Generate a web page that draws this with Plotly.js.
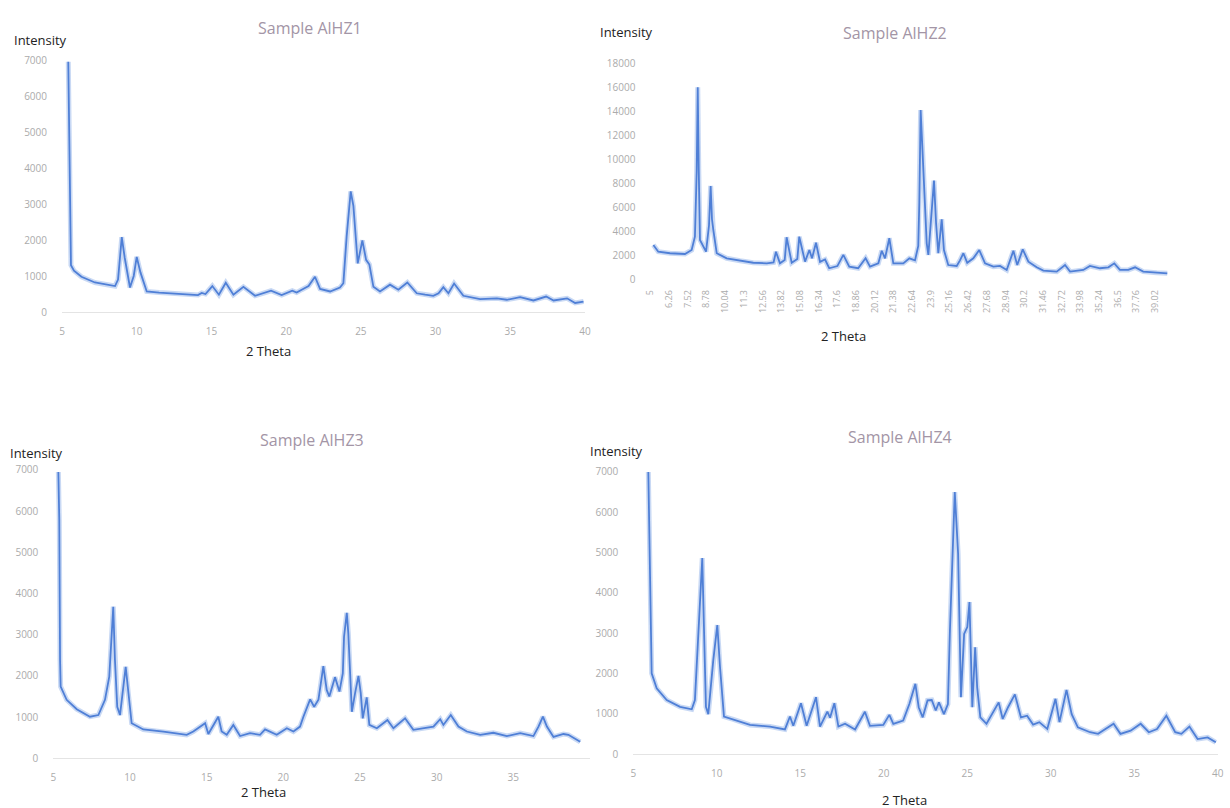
<!DOCTYPE html>
<html>
<head>
<meta charset="utf-8">
<script src="https://cdn.plot.ly/plotly-3.0.1.min.js"></script>
<style>
html,body{margin:0;padding:0;background:#fff;}
#chart{width:1230px;height:808px;}
</style>
</head>
<body>
<div id="chart"></div>
<script>
// ---- Data (2 Theta vs Intensity) ----
const titles = ["Sample AlHZ1", "Sample AlHZ2", "Sample AlHZ3", "Sample AlHZ4"];

const x1 = [5.42,5.5,5.6,5.8,6.3,7.2,8.0,8.55,8.75,9.0,9.2,9.55,9.8,10.0,10.25,10.67,11.5,12.34,13.3,14.1,14.35,14.6,15.06,15.5,15.96,16.47,17.14,17.92,18.99,19.7,20.41,20.7,21.04,21.5,21.93,22.27,22.94,23.3,23.6,23.83,24.05,24.32,24.5,24.79,25.1,25.35,25.57,25.84,26.28,26.95,27.51,28.11,28.74,29.3,29.85,30.2,30.52,30.86,31.24,31.86,32.98,34.1,34.77,35.66,36.55,37.4,37.9,38.8,39.34,39.9];
const y1 = [6950,4000,1300,1150,980,820,760,720,900,2080,1500,680,1000,1530,1100,570,540,520,500,470,530,500,720,480,810,480,700,450,590,470,590,540,620,720,980,640,570,620,680,800,2100,3350,2950,1350,1990,1450,1320,700,570,760,620,820,520,480,450,520,690,520,790,450,360,380,340,410,320,430,320,380,250,290];

const x2 = [5.2,5.53,6.32,7.33,7.78,8.0,8.12,8.19,8.26,8.34,8.75,8.95,9.06,9.15,9.24,9.47,10.14,11.04,11.93,12.84,13.3,13.46,13.73,14.05,14.18,14.52,14.9,15.03,15.42,15.71,15.89,16.16,16.43,16.77,17.05,17.6,18.0,18.4,19.0,19.5,19.8,20.36,20.59,20.81,21.1,21.37,22.04,22.45,22.83,23.05,23.12,23.21,23.35,23.44,23.62,23.73,23.89,24.11,24.25,24.4,24.63,24.78,25.07,25.64,25.86,26.09,26.35,26.76,27.16,27.55,28.11,28.56,29.01,29.46,29.72,30.09,30.47,31.03,31.48,32.38,32.94,33.28,34.17,34.62,35.3,35.86,36.26,36.64,37.2,37.66,38.21,39.12,39.83];
const y2 = [2860,2300,2170,2110,2440,3550,9000,16000,9000,3280,2300,4500,7780,5000,4110,2170,1750,1550,1380,1330,1400,2300,1330,1600,3500,1380,1700,3550,1470,2440,1750,3050,1450,1650,920,1100,2030,1050,920,1750,1050,1330,2380,1750,3420,1330,1330,1750,1580,2780,6360,14100,10500,7440,3000,2030,4380,8220,4670,2170,5000,2440,1190,1110,1580,2170,1380,1750,2440,1330,1050,1110,780,2380,1190,2500,1470,1000,720,640,1190,640,780,1110,920,1000,1330,780,780,1000,640,550,500];
const x2TickLabels = ["5","6.26","7.52","8.78","10.04","11.3","12.56","13.82","15.08","16.34","17.6","18.86","20.12","21.38","22.64","23.9","25.16","26.42","27.68","28.94","30.2","31.46","32.72","33.98","35.24","36.5","37.76","39.02"];

const x3 = [5.33,5.39,5.44,5.48,5.87,6.53,7.39,7.94,8.37,8.65,8.91,9.02,9.17,9.35,9.72,9.89,10.11,10.87,12.18,13.7,14.13,14.9,15.11,15.76,15.98,16.31,16.74,17.18,17.83,18.48,18.81,19.57,20.23,20.66,21.09,21.31,21.75,22.01,22.29,22.61,22.83,23.0,23.37,23.66,23.88,23.96,24.14,24.24,24.35,24.47,24.68,24.9,25.05,25.18,25.44,25.61,26.1,26.79,27.18,27.94,28.48,29.14,29.79,30.23,30.44,30.92,31.42,31.97,32.84,33.7,34.58,35.45,36.31,36.64,36.93,37.19,37.62,38.27,38.59,39.36];
const y3 = [6950,5780,2390,1740,1420,1190,1010,1050,1420,1980,3680,2390,1250,1050,2220,1580,850,700,650,570,650,850,590,1010,650,570,810,540,610,570,700,570,730,650,770,1010,1430,1250,1420,2240,1660,1500,1970,1620,2060,2950,3530,3030,2060,1130,1580,2000,1580,970,1480,810,730,930,730,970,690,730,770,950,810,1050,770,650,570,620,540,610,540,770,1010,770,520,590,570,400];

const x4 = [5.9,6.0,6.04,6.1,6.4,7.0,7.8,8.5,8.69,8.89,9.13,9.23,9.35,9.49,9.79,10.03,10.19,10.43,10.99,11.99,13.19,14.08,14.38,14.58,15.04,15.38,15.94,16.18,16.62,16.78,17.04,17.28,17.68,18.28,18.87,19.17,19.97,20.33,20.57,21.16,21.53,21.89,22.09,22.33,22.62,22.87,23.11,23.3,23.6,23.84,23.96,24.25,24.45,24.57,24.62,24.81,25.0,25.13,25.25,25.3,25.47,25.59,25.78,26.15,26.88,27.12,27.44,27.85,28.21,28.58,28.94,29.31,29.79,30.28,30.52,30.94,31.25,31.62,32.35,32.83,33.76,34.17,34.78,35.38,35.87,36.36,36.92,37.45,37.82,38.3,38.79,39.39,39.88];
const y4 = [7000,4810,3000,2000,1630,1340,1170,1110,1340,2910,4860,3160,1170,990,2330,3200,2170,930,860,720,680,610,930,700,1260,700,1410,680,1050,900,1260,680,750,610,1050,700,720,970,750,830,1240,1740,1160,910,1330,1340,1080,1280,990,1240,3070,6500,4970,2490,1410,2980,3150,3770,1660,1160,2650,1660,910,750,1280,870,1160,1480,910,950,730,790,620,1370,790,1590,990,660,540,500,750,500,580,750,540,620,950,540,500,680,370,410,290];

const ticks7000 = [0,1000,2000,3000,4000,5000,6000,7000];
const ticks18000 = [0,2000,4000,6000,8000,10000,12000,14000,16000,18000];
const xTicksA = [5,10,15,20,25,30,35,40];
const xTicksB = [5,10,15,20,25,30,35];
const x2TickVals = x2TickLabels.map(Number);

// ---- styling ----
const LINE = '#4f7fd6';
const HALO = 'rgba(120,160,228,0.4)';
const TICKC = '#ababab';
const FONT = 'Open Sans, Liberation Sans, sans-serif';

const series = [[x1,y1],[x2,y2],[x3,y3],[x4,y4]];
const traces = [];
series.forEach((s,i)=>{
  const ax = i===0 ? '' : String(i+1);
  traces.push({x:s[0], y:s[1], type:'scatter', mode:'lines', xaxis:'x'+ax, yaxis:'y'+ax,
    line:{color:HALO, width:5}, hoverinfo:'skip', showlegend:false});
  traces.push({x:s[0], y:s[1], type:'scatter', mode:'lines', xaxis:'x'+ax, yaxis:'y'+ax,
    line:{color:LINE, width:1.8}, showlegend:false});
});

function yax(domain, tv, max, anchor){
  return {domain:domain, range:[0,max], tickvals:tv, tickformat:'d', showgrid:false, zeroline:false, showline:false,
    ticks:'', ticklabelstandoff:14, tickfont:{family:FONT, size:10, color:TICKC}, anchor:anchor, fixedrange:true};
}
function xax(domain, tv, anchor, extra){
  return Object.assign({domain:domain, range:[5,40], tickvals:tv, showgrid:false, zeroline:false,
    showline:true, linecolor:'#e4e4e4', linewidth:1, ticks:'', ticklabelstandoff:10,
    tickfont:{family:FONT, size:10, color:TICKC}, anchor:anchor, fixedrange:true}, extra||{});
}

const W=1230, H=808;
const px = v => v/W;
const py = v => 1 - v/H;

const layout = {
  width:W, height:H, margin:{l:0,r:0,t:0,b:0},
  paper_bgcolor:'#ffffff', plot_bgcolor:'rgba(0,0,0,0)', showlegend:false,
  xaxis:  xax([px(62),  px(585)],  xTicksA, 'y'),
  yaxis:  yax([py(312), py(60)],   ticks7000, 7000, 'x'),
  xaxis2: xax([px(650.4), px(1169.8)], x2TickVals, 'y2', {ticktext:x2TickLabels, tickangle:-90, showline:false, ticklabelstandoff:8, tickfont:{family:FONT, size:9, color:TICKC}}),
  yaxis2: yax([py(279.3), py(63.3)], ticks18000, 18000, 'x2'),
  xaxis3: xax([px(53.3), px(590)],  xTicksB, 'y3'),
  yaxis3: yax([py(758.3), py(469.9)], ticks7000, 7000, 'x3'),
  xaxis4: xax([px(633.3), px(1217.8)], xTicksA, 'y4'),
  yaxis4: yax([py(754), py(471.9)], ticks7000, 7000, 'x4'),
  annotations: []
};

const titlePos = [[310,28],[895,33],[312,440],[900,437]];
const intensPos = [[12,40],[598,32],[8,453],[588,451]];
const thetaPos = [[268,351],[843,336],[263,792],[905,800]];
titles.forEach((t,i)=>{
  layout.annotations.push({text:t, xref:'paper', yref:'paper', x:px(titlePos[i][0]), y:py(titlePos[i][1]),
    xanchor:'center', yanchor:'middle', showarrow:false, font:{family:FONT, size:16, color:'#a395a6'}});
  layout.annotations.push({text:'Intensity', xref:'paper', yref:'paper', x:px(intensPos[i][0]), y:py(intensPos[i][1]),
    xanchor:'left', yanchor:'middle', showarrow:false, font:{family:FONT, size:13, color:'#222'}});
  layout.annotations.push({text:'2 Theta', xref:'paper', yref:'paper', x:px(thetaPos[i][0]), y:py(thetaPos[i][1]),
    xanchor:'center', yanchor:'middle', showarrow:false, font:{family:FONT, size:13, color:'#222'}});
});

Plotly.newPlot('chart', traces, layout, {displayModeBar:false, staticPlot:true});
</script>
</body>
</html>
